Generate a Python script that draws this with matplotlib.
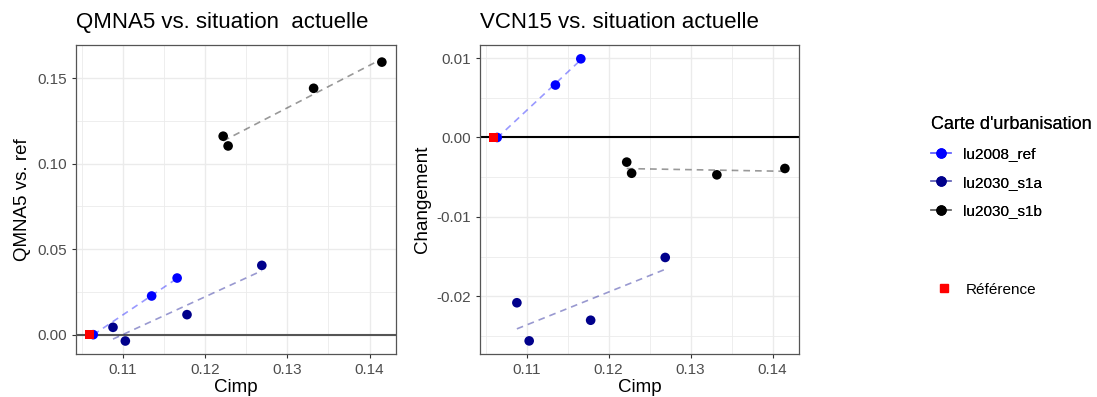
import numpy as np
import matplotlib
matplotlib.use("Agg")
import matplotlib.pyplot as plt
from matplotlib.lines import Line2D
from matplotlib.colors import to_rgba
from matplotlib.ticker import MultipleLocator

plt.rcParams["font.family"] = ["Liberation Sans", "DejaVu Sans"]

# Données
groups = ["lu2008_ref", "lu2030_s1a", "lu2030_s1b"]
group_colors = ["#0000ff", "#00008b", "#000000"]

cimp_ref08 = [0.1064, 0.1135, 0.1166]
cimp_s1a = [0.1088, 0.1103, 0.1178, 0.1269]
cimp_s1b = [0.1222, 0.1228, 0.1332, 0.1415]

qmna5_ref08 = [0.0, 0.0226, 0.0331]
qmna5_s1a = [0.0043, -0.0037, 0.0117, 0.0405]
qmna5_s1b = [0.1160, 0.1103, 0.1440, 0.1593]

vcn15_ref08 = [0.0, 0.0066, 0.0099]
vcn15_s1a = [-0.0208, -0.0256, -0.0230, -0.0151]
vcn15_s1b = [-0.0031, -0.0045, -0.0047, -0.0039]

ref_cimp = 0.1060
ref_value = 0.0

cimp_all = [cimp_ref08, cimp_s1a, cimp_s1b]
qmna5_all = [qmna5_ref08, qmna5_s1a, qmna5_s1b]
vcn15_all = [vcn15_ref08, vcn15_s1a, vcn15_s1b]

W, H = 1097, 397
fig = plt.figure(figsize=(W / 100, H / 100), dpi=100)

ax1 = fig.add_axes([76 / W, 1 - 354 / H, 320 / W, 309 / H])
ax2 = fig.add_axes([480 / W, 1 - 354 / H, 319 / W, 309 / H])


def style_axis(ax):
    ax.set_facecolor("white")
    ax.grid(True, which="major", color="#ebebeb", linewidth=1.0)
    ax.grid(True, which="minor", color="#ebebeb", linewidth=0.6)
    ax.set_axisbelow(True)
    for sp in ax.spines.values():
        sp.set_color("#555555")
        sp.set_linewidth(0.9)
    ax.tick_params(which="major", length=3, width=0.8, color="#333333",
                   labelsize=11, labelcolor="#4d4d4d")
    ax.tick_params(which="minor", length=0)
    ax.set_xlim(0.10430, 0.14322)
    ax.xaxis.set_minor_locator(MultipleLocator(0.005))
    ax.set_xticks([0.11, 0.12, 0.13, 0.14])
    ax.set_xticklabels(["0.11", "0.12", "0.13", "0.14"])


def draw_panel(ax, values, zero_color):
    ax.axhline(0, color=zero_color, linewidth=1.5, zorder=2)
    # droites de régression (lm) en tirets
    for xs, ys, col in zip(cimp_all, values, group_colors):
        slope, inter = np.polyfit(xs, ys, 1)
        xx = np.array([min(xs), max(xs)])
        ax.plot(xx, slope * xx + inter, color=col, alpha=0.4,
                linestyle=(0, (4, 3)), linewidth=1.2, zorder=3)
    for xs, ys, col in zip(cimp_all, values, group_colors):
        ax.scatter(xs, ys, s=48, color=col, edgecolors="none", zorder=4)
    ax.scatter([ref_cimp], [ref_value], s=42, marker="s", color="#ff0000",
               edgecolors="none", zorder=5)


style_axis(ax1)
draw_panel(ax1, qmna5_all, "#555555")
ax1.set_ylim(-0.0113, 0.1693)
ax1.yaxis.set_minor_locator(MultipleLocator(0.025))
ax1.set_yticks([0.0, 0.05, 0.10, 0.15])
ax1.set_yticklabels(["0.00", "0.05", "0.10", "0.15"])
ax1.set_title("QMNA5 vs. situation  actuelle", loc="left", fontsize=16, pad=12)
ax1.set_ylabel("QMNA5 vs. ref", fontsize=13.5)
ax1.set_xlabel("Cimp", fontsize=13.5)

style_axis(ax2)
draw_panel(ax2, vcn15_all, "#000000")
ax2.set_ylim(-0.02725, 0.01164)
ax2.yaxis.set_minor_locator(MultipleLocator(0.005))
ax2.set_yticks([-0.02, -0.01, 0.0, 0.01])
ax2.set_yticklabels(["-0.02", "-0.01", "0.00", "0.01"])
ax2.set_title("VCN15 vs. situation actuelle", loc="left", fontsize=16, pad=12)
ax2.set_ylabel("Changement", fontsize=13.5)
ax2.set_xlabel("Cimp", fontsize=13.5)

# "Cimp" collé au bas de la figure sans être coupé
for ax in (ax1, ax2):
    ax.xaxis.label.set_va("bottom")
    ax.xaxis.set_label_coords(0.5, -(H - 354 - 1) / 309)
ax1.yaxis.set_label_coords(-0.14, 0.5)
ax2.yaxis.set_label_coords(-0.153, 0.5)

# Légendes : trait clair + point plein
handles = [
    Line2D([0], [0], color=to_rgba(c, 0.4), marker="o", markersize=6.5,
           markerfacecolor=c, markeredgecolor=c, linewidth=1.2)
    for c in group_colors
]
leg = fig.legend(handles, groups, title="Carte d'urbanisation",
                 loc="upper left", bbox_to_anchor=(917 / W, 1 - 102 / H),
                 frameon=False, fontsize=11, title_fontsize=13,
                 handlelength=1.3, handletextpad=0.8, labelspacing=0.95,
                 alignment="left")

ref_handle = Line2D([0], [0], linestyle="none", marker="s", markersize=6,
                    color="#ff0000")
fig.legend([ref_handle], ["Référence"], loc="upper left",
           bbox_to_anchor=(920 / W, 1 - 269 / H), frameon=False,
           fontsize=11, handlelength=1.3, handletextpad=0.8)
fig.add_artist(leg)

fig.savefig("out.png", dpi=100)
